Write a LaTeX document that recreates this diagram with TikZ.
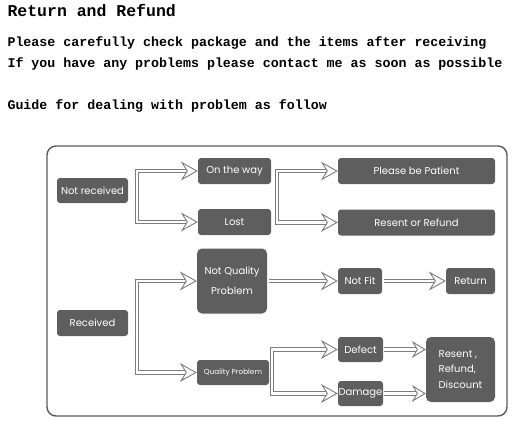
\documentclass[tikz,border=0pt]{standalone}
\usepackage{fontspec}
\setmainfont{Poppins}
\newfontfamily\monofont{Liberation Mono}
\usetikzlibrary{arrows.meta,calc}

\definecolor{boxgray}{HTML}{5E5E5E}
\definecolor{pipegray}{HTML}{7C7C7C}
\definecolor{framegray}{HTML}{5A5A5A}

\tikzset{
  greybox/.style={fill=boxgray, rounded corners=3pt, text=white, inner sep=0pt,
    font=\fontsize{10}{12}\selectfont},
  pipe/.style={draw=pipegray, line width=0.9pt, double=white, double distance=2.5pt},
  hollowtip/.style={draw=pipegray, line width=0.9pt,
    -{Stealth[open, fill=white, length=17pt, width=19pt, inset=6pt]}},
  smalltip/.style={draw=pipegray, line width=0.9pt,
    -{Stealth[open, fill=white, length=14pt, width=17pt, inset=5pt]}},
  headline/.style={anchor=base west, font=\monofont\bfseries\fontsize{13.3}{15}\selectfont}
}

\begin{document}
\begin{tikzpicture}[x=1pt, y=-1pt]
\useasboundingbox (0,0) rectangle (520,428);

% header text
\node[headline, font=\monofont\bfseries\fontsize{16.5}{18}\selectfont] (title) at (4,17) {Return and Refund};
\node[headline] (lineA) at (4,46.5) {Please carefully check package and the items after receiving};
\node[headline] (lineB) at (4,68) {If you have any problems please contact me as soon as possible};
\node[headline] (lineC) at (4,110) {Guide for dealing with problem as follow};

% frame
\draw[framegray, line width=1.4pt, rounded corners=9pt] (47,146) rectangle (507,416);

% boxes
\node[greybox, minimum width=71pt, minimum height=25pt] (notrec) at (92.5,190.5) {Not received};
\node[greybox, minimum width=73pt, minimum height=26pt] (onway) at (234.5,171) {On the way};
\node[greybox, minimum width=73pt, minimum height=26pt] (lost) at (234.5,222) {Lost};
\node[greybox, minimum width=157pt, minimum height=26pt] (patient) at (416.5,171) {Please be Patient};
\node[greybox, minimum width=157pt, minimum height=26pt] (resent) at (416.5,222.5) {Resent or Refund};

\node[greybox, minimum width=71pt, minimum height=26pt] (rec) at (92.5,323) {Received};
\node[greybox, minimum width=70pt, minimum height=65pt, rounded corners=5pt, align=center,
  font=\fontsize{10}{20}\selectfont] (nqp) at (232,281) {Not Quality\\Problem};
\node[greybox, minimum width=72pt, minimum height=25pt, font=\fontsize{7.3}{9}\selectfont] (qp) at (233,372.5) {Quality Problem};
\node[greybox, minimum width=44pt, minimum height=26pt] (notfit) at (360,281) {Not Fit};
\node[greybox, minimum width=49pt, minimum height=26pt] (return) at (470.5,281) {Return};
\node[greybox, minimum width=45pt, minimum height=25pt] (defect) at (360.5,349.5) {Defect};
\node[greybox, minimum width=45pt, minimum height=25pt] (damage) at (360.5,393.5) {Damage};
\node[greybox, minimum width=69pt, minimum height=65pt, rounded corners=5pt, align=left,
  font=\fontsize{10}{15.5}\selectfont] (rrd) at (460.5,369.5) {Resent ,\\Refund,\\Discount};

% split points
\coordinate (nrsplit) at (137,196);
\coordinate (owsplit) at (277,196);
\coordinate (rsplit) at (137,326);
\coordinate (qsplit) at (272,371);

% connectors
\draw[pipe] ([xshift=-10pt]onway.west) -| (nrsplit) |- ([xshift=-10pt]lost.west);
\draw[hollowtip] ([xshift=-11pt]onway.west) -- (onway.west);
\draw[hollowtip] ([xshift=-11pt]lost.west) -- (lost.west);

\draw[pipe] ([xshift=-10pt]patient.west) -| (owsplit) |- ([xshift=-10pt]resent.west);
\draw[hollowtip] ([xshift=-11pt]patient.west) -- (patient.west);
\draw[hollowtip] ([xshift=-11pt]resent.west) -- (resent.west);

\draw[pipe] ([xshift=-10pt]nqp.west) -| (rsplit) |- ([xshift=-10pt]qp.west);
\draw[hollowtip] ([xshift=-11pt]nqp.west) -- (nqp.west);
\draw[hollowtip] ([xshift=-11pt]qp.west) -- (qp.west);

\draw[pipe] ([xshift=2pt]nqp.east) -- ([xshift=-10pt]notfit.west);
\draw[hollowtip] ([xshift=-11pt]notfit.west) -- (notfit.west);
\draw[pipe] ([xshift=2pt]notfit.east) -- ([xshift=-10pt]return.west);
\draw[hollowtip] ([xshift=-11pt]return.west) -- (return.west);

\draw[pipe] ([xshift=-10pt]defect.west) -| (qsplit) |- ([xshift=-10pt]damage.west);
\draw[hollowtip] ([xshift=-11pt]defect.west) -- (defect.west);
\draw[hollowtip] ([xshift=-11pt]damage.west) -- (damage.west);

\draw[pipe] ([xshift=1pt]defect.east) -- ($(rrd.west |- defect.east)+(-8,0)$);
\draw[smalltip] ($(rrd.west |- defect.east)+(-9,0)$) -- (rrd.west |- defect.east);
\draw[pipe] ([xshift=1pt]damage.east) -- ($(rrd.west |- damage.east)+(-8,0)$);
\draw[smalltip] ($(rrd.west |- damage.east)+(-9,0)$) -- (rrd.west |- damage.east);
\end{tikzpicture}
\end{document}
